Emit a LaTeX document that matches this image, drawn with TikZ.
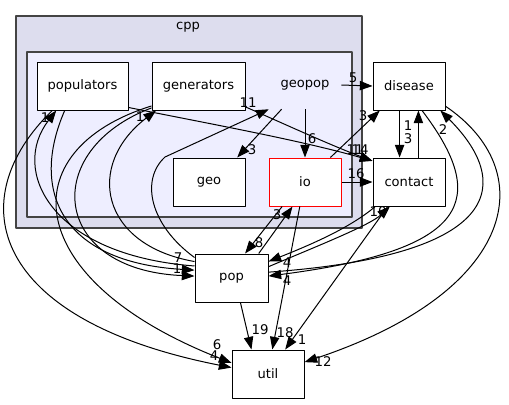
\documentclass[tikz,border=0pt]{standalone}
\usepackage{fontspec}
\setmainfont{DejaVu Sans}
\usetikzlibrary{arrows.meta}
\definecolor{dirOuterFill}{HTML}{DDDDEE}
\definecolor{dirInnerFill}{HTML}{EEEEFF}
\definecolor{dirClusterLine}{HTML}{444444}
\begin{document}
\begin{tikzpicture}[
  dirbox/.style={draw=black, line width=0.75pt, fill=white, minimum width=54pt,
    minimum height=36pt, inner sep=0pt, font=\fontsize{9.8}{11}\selectfont},
  dep/.style={-{Triangle[length=9.5pt,width=7pt]}, line width=0.75pt},
  cnt/.style={inner sep=0pt, font=\fontsize{10}{11}\selectfont}]
% TikZ graph of the directory dependencies of geopop
\def\px{0.75pt}
\providecommand{\dirClusterWidth}{1.2pt}
\begin{scope}[x=\px, y=-\px, line join=round]
  % Canvas
  \useasboundingbox[fill=white] (0,0) rectangle (509,404);
  % Clusters: cpp, then geopop inside it
  \draw[fill=dirOuterFill, draw=dirClusterLine, line width=\dirClusterWidth] (16,16) rectangle (362,228);
  \node[font=\fontsize{9.8}{11}\selectfont] (cpplabel) at (188,27) {cpp};
  \draw[fill=dirInnerFill, draw=dirClusterLine, line width=\dirClusterWidth] (27,52) rectangle (352,217);
  \node[inner sep=0pt, minimum width=54pt, minimum height=36pt, font=\fontsize{9.8}{11}\selectfont] (geopop) at (305,85) {geopop};
  % Directories
  \node[dirbox, minimum width=68.25pt] (populators) at (82.5,86) {populators};
  \node[dirbox, minimum width=69.75pt] (generators) at (198.5,86) {generators};
  \node[dirbox] (geo) at (209,182) {geo};
  \node[dirbox, draw=red] (io) at (305,182) {io};
  \node[dirbox] (disease) at (409,86) {disease};
  \node[dirbox] (contact) at (409,182) {contact};
  \node[dirbox, minimum width=54.75pt] (pop) at (231.5,278) {pop};
  \node[dirbox] (util) at (268,374) {util};
  % Dependencies out of geopop
  \draw[dep] (geopop.east) -- (disease.west);
  \draw[dep] (geopop.south) -- (io.north);
  \draw[dep] (geopop.226) -- (geo.41);
  % populators and generators
  \draw[dep] (populators.-25) .. controls (200,122) and (300,140) .. (contact.150);
  \draw[dep] (generators.-24) .. controls (280,122) and (330,145) .. (contact.150);
  \draw[dep] (populators.234) .. controls (30,190) and (60,262) .. (pop.168);
  \draw[dep] (populators.219) .. controls (-40,200) and (-10,320) .. (util.170);
  \draw[dep] (generators.205) .. controls (40,150) and (50,270) .. (pop.177);
  \draw[dep] (generators.203) .. controls (10,150) and (20,280) .. (util.163);
  % Dependencies out of pop
  \draw[dep] (pop.162) .. controls (50,255) and (10,170) .. (populators.223);
  \draw[dep] (pop.156) .. controls (100,245) and (85,165) .. (generators.210);
  \draw[dep] (pop.151) .. controls (150,225) and (140,180) .. (165,157) -- (geopop.south west);
  \draw[dep] (pop.42) -- (io.243);
  \draw[dep] (pop.17) .. controls (320,245) and (370,225) .. (contact.232);
  \draw[dep] (pop.9) .. controls (510,255) and (510,180) .. (disease.322);
  \draw[dep] (pop.290) -- (util.124);
  % io
  \draw[dep] (io.44) -- (disease.220);
  \draw[dep] (io.east) -- (contact.west);
  \draw[dep] (io.227) -- (pop.61);
  \draw[dep] (io.258) -- (util.80);
  % disease and contact
  \draw[dep] (disease.249) -- (contact.111);
  \draw[dep] (contact.69) -- (disease.291);
  \draw[dep] (disease.298) .. controls (490,200) and (470,250) .. (pop.3);
  \draw[dep] (disease.331) .. controls (540,170) and (520,290) .. (util.18);
  \draw[dep] (contact.216) .. controls (350,228) and (310,245) .. (pop.24);
  \draw[dep] (contact.229) -- (util.55);
  % Counts
  \node[cnt] (c5) at (353,78) {5};
  \node[cnt] (c6) at (312,139) {6};
  \node[cnt] (c3geo) at (252,150) {3};
  \node[cnt] (c11geopop) at (248,103) {11};
  \node[cnt] (c11contact) at (355,150) {11};
  \node[cnt] (c14contact) at (360,150) {14};
  \node[cnt] (c3disease) at (363,116) {3};
  \node[cnt] (c16) at (356,174) {16};
  \node[cnt] (c1disease) at (408,126) {1};
  \node[cnt] (c3contact) at (408,139) {3};
  \node[cnt] (c2) at (443,130) {2};
  \node[cnt] (c10) at (378,212) {10};
  \node[cnt] (c3io) at (277,215) {3};
  \node[cnt] (c8) at (259,243) {8};
  \node[cnt] (c4contact) at (287,263) {4};
  \node[cnt] (c4disease) at (287,281) {4};
  \node[cnt] (c7) at (178,258) {7};
  \node[cnt] (c1pop) at (177,269) {1};
  \node[cnt] (c1populators) at (45,118) {1};
  \node[cnt] (c1generators) at (140,117) {1};
  \node[cnt] (c6util) at (217,345) {6};
  \node[cnt] (c4util) at (214,356) {4};
  \node[cnt] (c19) at (260,330) {19};
  \node[cnt] (c18) at (285,333) {18};
  \node[cnt] (c1util) at (302,340) {1};
  \node[cnt] (c12) at (323,362) {12};
\end{scope}
\end{tikzpicture}
\end{document}
